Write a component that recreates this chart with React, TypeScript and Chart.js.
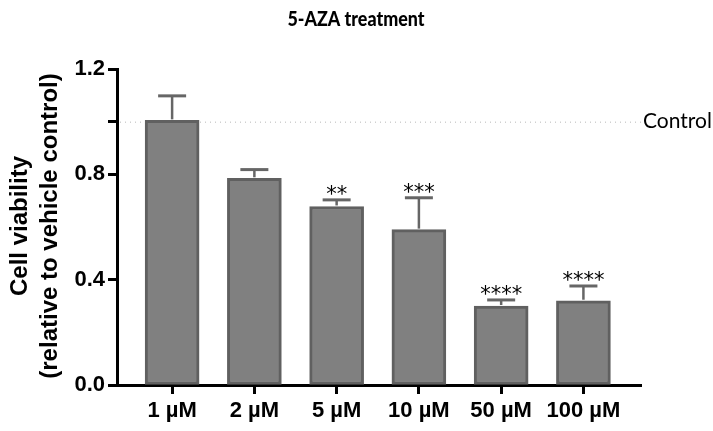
import React, { useEffect, useRef } from "react";
import { Chart, registerables } from "chart.js";

Chart.register(...registerables);

const categories = ["1 µM", "2 µM", "5 µM", "10 µM", "50 µM", "100 µM"];
const viability = [1.005, 0.785, 0.678, 0.59, 0.3, 0.32];
const errorTop = [1.098, 0.818, 0.703, 0.711, 0.323, 0.376];
const significance = ["", "", "**", "***", "****", "****"];
const yTickValues = [0, 0.4, 0.8, 1.0, 1.2];
const yTickLabels = ["0.0", "0.4", "0.8", "", "1.2"];
const controlLevel = 1.0;
const titleText = "5-AZA treatment";
const yTitleLines = ["Cell viability", "(relative to vehicle control)"];
const controlLabel = "Control";

const CAL = "Lato, 'Open Sans', sans-serif";
const ARIAL = "'Liberation Sans', Arial, sans-serif";
const STAR = "'DejaVu Sans', sans-serif";

const overlay = {
  id: "overlay",
  beforeDatasetsDraw(chart: any) {
    const { ctx, chartArea, scales } = chart;
    const y = scales.y.getPixelForValue(controlLevel);
    ctx.save();
    ctx.strokeStyle = "#b8b8b8";
    ctx.lineWidth = 1;
    ctx.setLineDash([1, 4]);
    ctx.beginPath();
    ctx.moveTo(chartArea.left + 3, y + 0.5);
    ctx.lineTo(chartArea.right, y + 0.5);
    ctx.stroke();
    ctx.restore();
  },
  afterDatasetsDraw(chart: any) {
    const { ctx, chartArea, scales } = chart;
    const xs = scales.x;
    const ys = scales.y;
    ctx.save();
    viability.forEach((v, i) => {
      const x = xs.getPixelForValue(i);
      const yb = ys.getPixelForValue(v);
      const yt = ys.getPixelForValue(errorTop[i]);
      ctx.strokeStyle = "#666666";
      ctx.lineWidth = 2.5;
      ctx.beginPath();
      ctx.moveTo(x, yb - 1);
      ctx.lineTo(x, yt);
      ctx.stroke();
      ctx.lineWidth = 3;
      ctx.beginPath();
      ctx.moveTo(x - 14, yt);
      ctx.lineTo(x + 14, yt);
      ctx.stroke();
      if (significance[i]) {
        ctx.fillStyle = "#000";
        ctx.font = `21px ${STAR}`;
        ctx.textAlign = "center";
        ctx.textBaseline = "alphabetic";
        ctx.fillText(significance[i], x, yt + 1);
      }
    });
    const yc = ys.getPixelForValue(controlLevel);
    ctx.fillStyle = "#000";
    ctx.font = `21px ${CAL}`;
    ctx.textAlign = "left";
    ctx.textBaseline = "middle";
    ctx.fillText(controlLabel, chartArea.right + 2, yc);
    // title (condensed to mimic the narrow original face)
    ctx.save();
    ctx.translate(356, 19);
    ctx.scale(0.85, 1);
    ctx.font = `900 21px ${CAL}`;
    ctx.textAlign = "center";
    ctx.textBaseline = "middle";
    ctx.fillText(titleText, 0, 0);
    ctx.restore();
    ctx.font = `bold 24px ${ARIAL}`;
    const cy = (chartArea.top + chartArea.bottom) / 2 - 1;
    [20, 50].forEach((lx, k) => {
      ctx.save();
      ctx.translate(lx, cy);
      ctx.rotate(-Math.PI / 2);
      ctx.textAlign = "center";
      ctx.textBaseline = "middle";
      ctx.fillText(yTitleLines[k], 0, 0);
      ctx.restore();
    });
    ctx.restore();
  },
};

export default function App() {
  const ref = useRef<HTMLCanvasElement>(null);
  useEffect(() => {
    if (!ref.current) return;
    const chart = new Chart(ref.current, {
      type: "bar",
      data: {
        datasets: [
          {
            data: viability.map((v, i) => ({ x: i, y: v })),
            backgroundColor: "#808080",
            borderColor: "#606060",
            borderWidth: 3,
            borderSkipped: false,
            barThickness: 54,
          },
        ],
      },
      options: {
        animation: false,
        responsive: false,
        layout: { padding: { top: 69, right: 72, left: 0, bottom: 0 } },
        plugins: { legend: { display: false }, tooltip: { enabled: false }, title: { display: false } },
        scales: {
          x: {
            type: "linear",
            offset: false,
            min: -0.67,
            max: 5.7,
            afterBuildTicks: (s: any) => {
              s.ticks = categories.map((_, i) => ({ value: i }));
            },
            afterFit: (s: any) => {
              s.height = 46;
            },
            ticks: {
              autoSkip: false,
              maxRotation: 0,
              color: "#000",
              font: { family: ARIAL, size: 22, weight: "bold" },
              padding: 4,
              callback: (v: any) => categories[Math.round(Number(v))] ?? "",
            },
            grid: {
              display: true,
              offset: false,
              drawOnChartArea: false,
              drawTicks: true,
              tickLength: 9,
              tickWidth: 3,
              tickColor: "#000",
            },
            border: { display: true, color: "#000", width: 3 },
          },
          y: {
            min: 0,
            max: 1.2,
            afterBuildTicks: (s: any) => {
              s.ticks = yTickValues.map((v) => ({ value: v }));
            },
            afterFit: (s: any) => {
              s.width = 117;
            },
            ticks: {
              color: "#000",
              font: { family: ARIAL, size: 22, weight: "bold" },
              padding: 3,
              callback: (v: any) => {
                const idx = yTickValues.findIndex((t) => Math.abs(t - Number(v)) < 1e-6);
                return idx >= 0 ? yTickLabels[idx] : "";
              },
            },
            grid: {
              display: true,
              drawOnChartArea: false,
              drawTicks: true,
              tickLength: 9,
              tickWidth: 3,
              tickColor: "#000",
            },
            border: { display: true, color: "#000", width: 3 },
          },
        },
      },
      plugins: [overlay],
    } as any);
    return () => chart.destroy();
  }, []);
  return (
    <div style={{ position: "absolute", left: 0, top: 0, width: 713, height: 431, background: "#fff" }}>
      <canvas ref={ref} width={713} height={431} />
    </div>
  );
}
